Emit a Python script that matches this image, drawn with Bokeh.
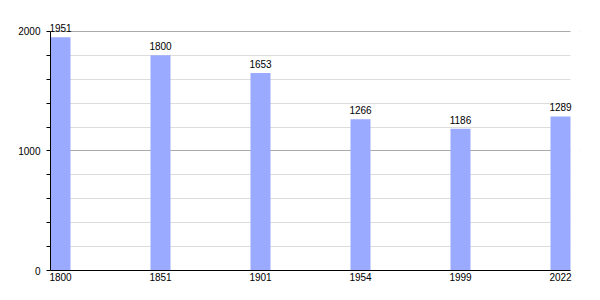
from bokeh.plotting import figure
from bokeh.models import Range1d, FixedTicker, ColumnDataSource, LabelSet, BoxAnnotation
from bokeh.core.properties import value
from bokeh.embed import file_html
from bokeh.resources import INLINE

years = ["1800", "1851", "1901", "1954", "1999", "2022"]
population = [1951, 1800, 1653, 1266, 1186, 1289]

xs = list(range(len(years)))
src = ColumnDataSource(dict(x=xs, top=population, label=[str(v) for v in population]))

x_end = len(years) - 0.9

p = figure(width=600, height=300, output_backend="svg", toolbar_location=None,
           x_range=Range1d(-0.1, x_end + 0.1), y_range=Range1d(0, 2100),
           min_border_left=50, min_border_right=20, min_border_top=19, min_border_bottom=30)
p.outline_line_color = None
p.background_fill_color = "white"

p.vbar(x="x", top="top", width=0.2, bottom=0, source=src,
       fill_color="#99aaff", line_color=None)

# blank out the area right of the plotting area (keeps grid to axis extent)
p.add_layout(BoxAnnotation(left=x_end, fill_color="white", fill_alpha=1.0,
                           line_color=None, level="underlay"))

labels = LabelSet(x="x", y="top", text="label", source=src, text_align="center",
                  text_baseline="alphabetic", y_offset=5, text_font_size="10px",
                  text_font=value("Liberation Sans"), text_color="black")
p.add_layout(labels)

# x axis
p.xaxis.ticker = FixedTicker(ticks=xs)
p.xaxis.bounds = (-0.1, x_end)
p.xaxis.major_label_overrides = {i: y for i, y in enumerate(years)}
p.xaxis.major_tick_out = 0
p.xaxis.major_tick_in = 0
p.xaxis.minor_tick_out = 0
p.xaxis.minor_tick_in = 0
p.xaxis.axis_line_color = "black"
p.xaxis.axis_line_width = 1
p.xaxis.major_label_standoff = 2
p.xaxis.major_label_text_font = "Liberation Sans"
p.xaxis.major_label_text_font_size = "10px"
p.xaxis.major_label_text_color = "black"
p.xgrid.grid_line_color = None

# y axis
p.yaxis.ticker = FixedTicker(ticks=[0, 1000, 2000],
                             minor_ticks=[200, 400, 600, 800, 1200, 1400, 1600, 1800])
p.yaxis.bounds = (0, 2000)
p.yaxis.major_tick_out = 4
p.yaxis.major_tick_in = 0
p.yaxis.minor_tick_out = 4
p.yaxis.minor_tick_in = 0
p.yaxis.axis_line_color = "black"
p.yaxis.major_label_standoff = 6
p.yaxis.major_label_text_font = "Liberation Sans"
p.yaxis.major_label_text_font_size = "10px"
p.yaxis.major_label_text_color = "black"
p.ygrid.grid_line_color = "#aaaaaa"
p.ygrid.minor_grid_line_color = "#dddddd"

open("out.html", "w").write(file_html(p, INLINE))
